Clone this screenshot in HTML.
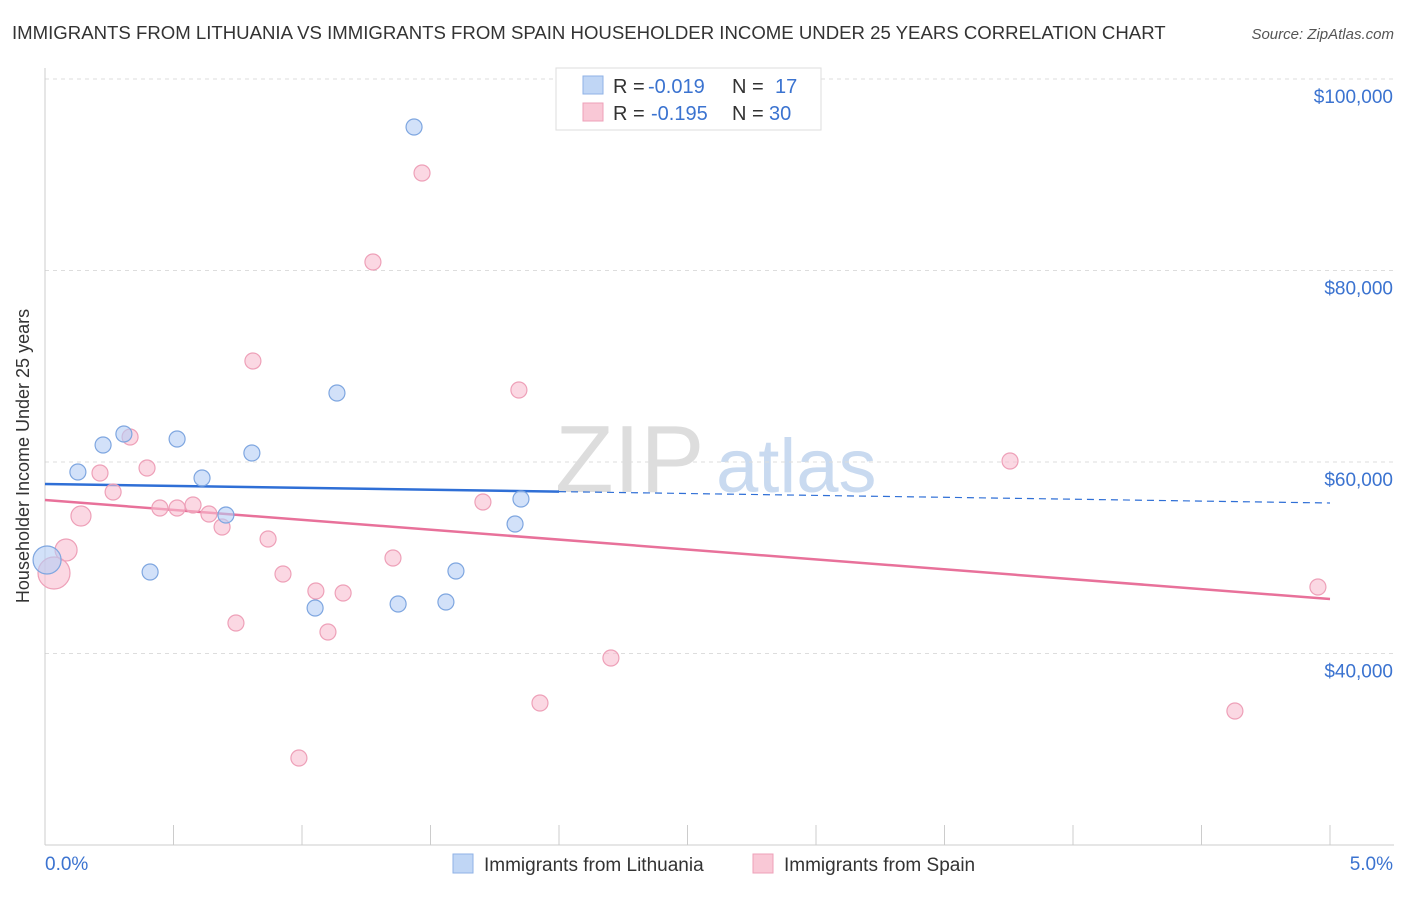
<!DOCTYPE html>
<html><head><meta charset="utf-8"><style>
body{margin:0;background:#fff;font-family:"Liberation Sans",sans-serif}
svg text{font-family:"Liberation Sans",sans-serif}
</style></head><body>
<svg id="c" width="1406" height="892">
<text x="12" y="39" font-size="18.6" fill="#333">IMMIGRANTS FROM LITHUANIA VS IMMIGRANTS FROM SPAIN HOUSEHOLDER INCOME UNDER 25 YEARS CORRELATION CHART</text>
<text x="1394" y="39" font-size="15" fill="#555" font-style="italic" text-anchor="end">Source: ZipAtlas.com</text>
<g><text x="555" y="492" font-size="96" fill="#ddd" font-family="Liberation Serif">ZIP</text><text x="716" y="492" font-size="76" fill="#c9daf0">atlas</text></g>
<g id="grid"></g><g id="axes"></g><g id="lines"></g><g id="pts"></g>
<g>
<rect x="556" y="68" width="265" height="62" fill="#fff" stroke="#ddd"/>
<rect x="583" y="76" width="20" height="18" fill="#c0d6f5" stroke="#8fb2e6"/>
<rect x="583" y="103" width="20" height="18" fill="#f9c8d6" stroke="#eea0b8"/>
<g font-size="20">
<text x="613" y="93" fill="#333">R =</text><text x="648" y="93" fill="#3b73d0">-0.019</text><text x="732" y="93" fill="#333">N =</text><text x="775" y="93" fill="#3b73d0">17</text></g>
<g font-size="20">
<text x="613" y="120" fill="#333">R =</text><text x="651" y="120" fill="#3b73d0">-0.195</text><text x="732" y="120" fill="#333">N =</text><text x="769" y="120" fill="#3b73d0">30</text></g>
</g>
<g>
<rect x="453" y="854" width="20" height="19" fill="#c0d6f5" stroke="#8fb2e6"/>
<text x="484" y="871" font-size="19" fill="#333">Immigrants from Lithuania</text>
<rect x="753" y="854" width="20" height="19" fill="#f9c8d6" stroke="#eea0b8"/>
<text x="784" y="871" font-size="19" fill="#333">Immigrants from Spain</text>
</g>
<text x="29" y="456" font-size="18" fill="#333" text-anchor="middle" transform="rotate(-90 29 456)">Householder Income Under 25 years</text>
</svg>
<script>
const blueX=[1.436,1.136,0.307,0.514,0.226,0.805,0.128,0.611,0.704,1.852,1.829,0.409,1.599,0.008,1.051,1.374,1.560];
const blueY=[94987,67206,62924,62402,61775,60940,58956,58329,54465,56136,53525,48512,48616,49765,44752,45170,45379];
const pinkX=[1.467,1.276,0.809,1.844,0.331,0.397,0.214,0.265,0.140,0.447,0.514,0.576,0.638,0.689,1.704,0.868,0.082,0.035,1.354,0.926,1.054,1.160,0.743,1.101,2.202,1.926,0.988,3.755,4.953,4.630];
const pinkY=[90183,80888,70548,67519,62611,59373,58851,56867,54360,55196,55196,55510,54570,53212,55823,51958,50810,48408,49974,48303,46528,46319,43185,42245,39530,34830,29086,60105,46946,33995];
const blueTrend=[57700,55718];
const pinkTrend=[56030,45690];
const yTicks=[100000,80000,60000,40000];
const yTickLabels=["$100,000","$80,000","$60,000","$40,000"];
const xTickLabels=["0.0%","5.0%"];
const NS="http://www.w3.org/2000/svg";
const X=v=>45+v*257, Y=v=>79+(100000-v)*191.5/20000;
function mk(t,a,p){const e=document.createElementNS(NS,t);for(const k in a)e.setAttribute(k,a[k]);p.appendChild(e);return e;}
const g=document.getElementById('grid'),ax=document.getElementById('axes'),ln=document.getElementById('lines'),pt=document.getElementById('pts');
yTicks.forEach((t,i)=>{
 const l=mk('line',{x1:45,x2:1394,y1:Y(t),y2:Y(t),stroke:'#ddd','stroke-dasharray':'4,4'},g);
 
 
 const tx=mk('text',{x:1393,y:Y(t)+24,'font-size':19,fill:'#3b73d0','text-anchor':'end'},ax);
 tx.textContent=yTickLabels[i];
 
 
});
mk('line',{x1:45,x2:45,y1:68,y2:845,stroke:'#ccc'},ax);
mk('line',{x1:45,x2:1394,y1:845,y2:845,stroke:'#ccc'},ax);
for(let i=0;i<=10;i++){mk('line',{x1:45+i*128.5,x2:45+i*128.5,y1:825,y2:845,stroke:'#ccc'},ax);}
xTickLabels.forEach((s,i)=>{const tx=mk('text',{x:i?1393:45,y:870,'font-size':19,fill:'#3b73d0','text-anchor':i?'end':'start'},ax);tx.textContent=s;
 
 });
const bAt=x=>blueTrend[0]+(blueTrend[1]-blueTrend[0])*x/5;
let e=mk('line',{x1:X(0),y1:Y(bAt(0)),x2:X(2),y2:Y(bAt(2)),stroke:'#2f6fd6','stroke-width':2.5},ln);


e=mk('line',{x1:X(2),y1:Y(bAt(2)),x2:X(5),y2:Y(bAt(5)),stroke:'#2f6fd6','stroke-width':1.2,'stroke-dasharray':'7,5'},ln);


e=mk('line',{x1:X(0),y1:Y(pinkTrend[0]),x2:X(5),y2:Y(pinkTrend[1]),stroke:'#e8719a','stroke-width':2.5},ln);


pinkX.forEach((x,i)=>{const c=mk('circle',{cx:X(x),cy:Y(pinkY[i]),r:i==17?16:(i==16?11:(i==8?10:8)),fill:'rgba(248,190,208,0.6)',stroke:'#eea0b8','stroke-width':1.2},pt);
 
 });
blueX.forEach((x,i)=>{const c=mk('circle',{cx:X(x),cy:Y(blueY[i]),r:i==13?14:8,fill:'rgba(180,205,245,0.6)',stroke:'#7ea6e0','stroke-width':1.2},pt);
 
 });
</script>
</body></html>
